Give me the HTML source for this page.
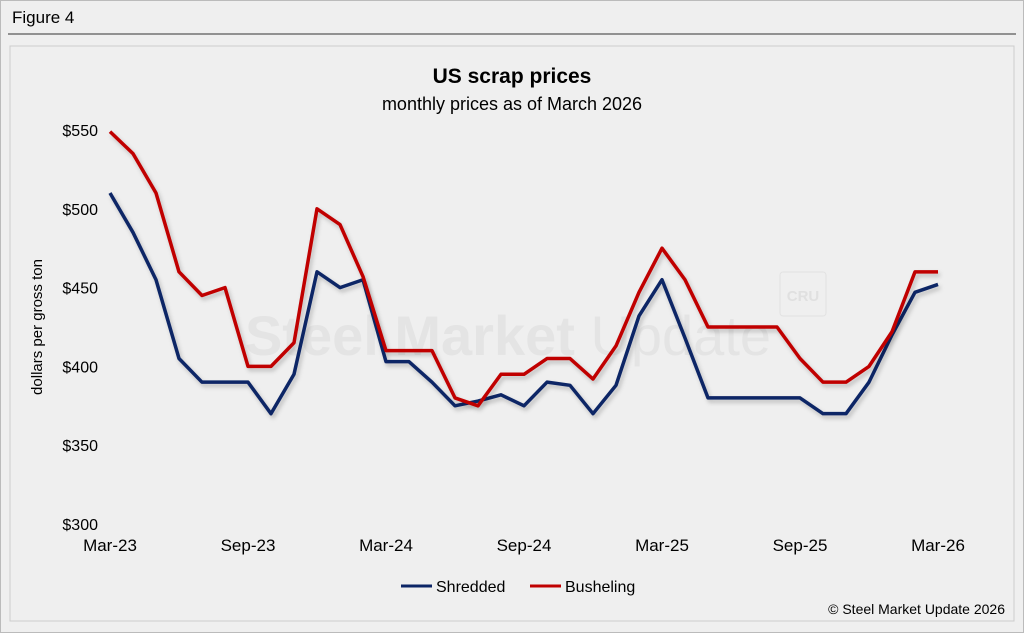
<!DOCTYPE html>
<html><head><meta charset="utf-8"><style>
body{margin:0;background:#fff;font-family:"Liberation Sans",Arial,sans-serif;}
svg text{font-family:"Liberation Sans",Arial,sans-serif;}
</style></head><body>
<svg width="1024" height="633" viewBox="0 0 1024 633" xmlns="http://www.w3.org/2000/svg">
<defs><filter id="sh" x="-5%" y="-5%" width="110%" height="120%"><feDropShadow dx="2" dy="3" stdDeviation="2" flood-color="#000" flood-opacity="0.22"/></filter></defs>
<rect x="0.5" y="0.5" width="1023" height="632" fill="#efefef" stroke="#bbb"/>
<text x="12" y="23" font-size="17" fill="#000">Figure 4</text>
<line x1="8" y1="34" x2="1016" y2="34" stroke="#333" stroke-width="1"/>
<rect x="10" y="46" width="1004" height="575" fill="#efefef" stroke="#ccc"/>
<text x="512" y="83" font-size="21" font-weight="bold" text-anchor="middle">US scrap prices</text>
<text x="512" y="110" font-size="18" text-anchor="middle">monthly prices as of March 2026</text>
<text x="508" y="355" font-size="56" font-weight="bold" fill="#e4e4e4" text-anchor="middle">Steel Market <tspan font-weight="normal">Update</tspan></text>
<rect x="780" y="272" width="46" height="44" rx="3" fill="none" stroke="#e2e2e2"/>
<text x="803" y="301" font-size="15" font-weight="bold" fill="#e0e0e0" text-anchor="middle">CRU</text>
<text transform="translate(42,327) rotate(-90)" font-size="15" text-anchor="middle">dollars per  gross ton</text>
<g id="yt"></g><g id="xt"></g><g id="lines"></g>
<g>
<line x1="401" y1="586" x2="432" y2="586" stroke="#0c2566" stroke-width="3"/>
<text x="436" y="592" font-size="16">Shredded</text>
<line x1="530" y1="586" x2="561" y2="586" stroke="#c00000" stroke-width="3"/>
<text x="565" y="592" font-size="16">Busheling</text>
</g>
<text x="1005" y="614" font-size="14" text-anchor="end">© Steel Market Update 2026</text>
</svg>
<script>
const xTickLabels=["Mar-23","Sep-23","Mar-24","Sep-24","Mar-25","Sep-25","Mar-26"];
const yTicks=[300,350,400,450,500,550];
const shredded=[510,485,455,405,390,390,390,370,395,460,450,455,403,403,390,375,378,382,375,390,388,370,388,432,455,418,380,380,380,380,380,370,370,390,420,447,452];
const busheling=[549,535,510,460,445,450,400,400,415,500,490,457,410,410,410,380,375,395,395,405,405,392,413,447,475,455,425,425,425,425,405,390,390,400,422,460,460];
const NS="http://www.w3.org/2000/svg";
const x=i=>110+i*(938-110)/36;
const y=v=>524-(v-300)*(524-130)/250;
const yt=document.getElementById('yt');
yTicks.forEach(v=>{const t=document.createElementNS(NS,'text');t.setAttribute('x',98);t.setAttribute('y',y(v)+6);t.setAttribute('font-size',16);t.setAttribute('text-anchor','end');t.textContent='$'+v;


yt.appendChild(t);});
const xt=document.getElementById('xt');
xTickLabels.forEach((l,k)=>{const t=document.createElementNS(NS,'text');t.setAttribute('x',x(k*6));t.setAttribute('y',551);t.setAttribute('font-size',17);t.setAttribute('text-anchor','middle');t.textContent=l;


xt.appendChild(t);});
const lg=document.getElementById('lines');
[[shredded,'#0c2566','shredded-line'],[busheling,'#c00000','busheling-line']].forEach(([d,c,n])=>{const p=document.createElementNS(NS,'polyline');p.setAttribute('points',d.map((v,i)=>x(i)+','+y(v)).join(' '));p.setAttribute('fill','none');p.setAttribute('stroke',c);p.setAttribute('stroke-width',3.5);p.setAttribute('stroke-linejoin','round');p.setAttribute('filter','url(#sh)');


lg.appendChild(p);});
</script>
</body></html>
